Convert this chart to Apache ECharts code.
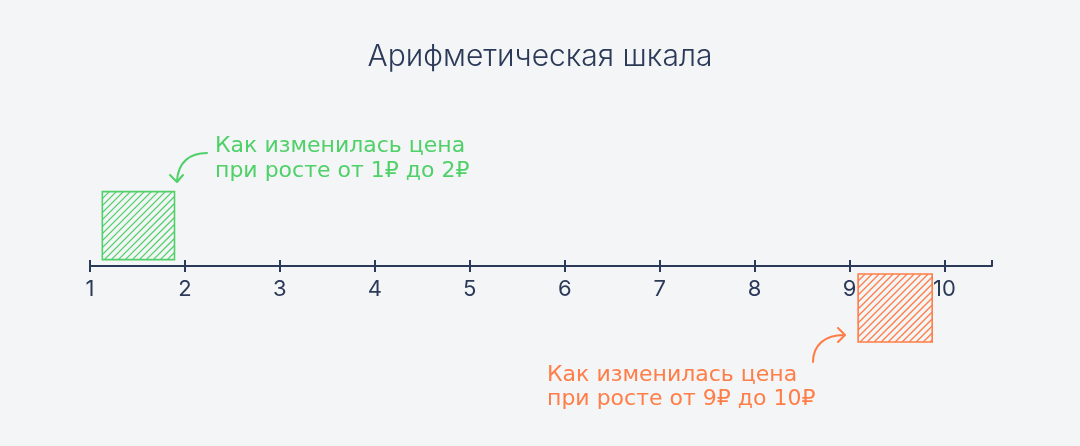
<!DOCTYPE html>
<html>
<head>
<meta charset="utf-8">
<script src="https://cdn.jsdelivr.net/npm/echarts@6/dist/echarts.min.js"></script>
<style>
  html, body { margin: 0; padding: 0; background: #f4f5f7; }
  #chart { width: 1080px; height: 446px; }
</style>
</head>
<body>
<div id="chart"></div>
<script>
// шкала
var axisMin = 1;
var axisMax = 10.5;
var tickStep = 1;

// прямоугольники: [x от, x до, y от, y до]
var greenBox = [1.13, 1.89, 0.08, 0.93];
var orangeBox = [9.09, 9.87, -0.1, -0.95];

var titleText = 'Арифметическая шкала';
var greenNote = ['Как изменилась цена', 'при росте от 1₽ до 2₽'];
var orangeNote = ['Как изменилась цена', 'при росте от 9₽ до 10₽'];

var navy = '#2b3a58';
var green = '#4fd068';
var orange = '#ff7d47';
var font = 'Inter, Roboto, "Noto Sans", sans-serif';
var noteFont = '"DejaVu Sans", Inter, sans-serif';

var chart = echarts.init(document.getElementById('chart'));

// штриховка внутри прямоугольника
function hatchBox(params, api, color) {
  var p0 = api.coord([api.value(0), api.value(3)]);
  var p1 = api.coord([api.value(1), api.value(2)]);
  var x0 = Math.min(p0[0], p1[0]), x1 = Math.max(p0[0], p1[0]);
  var y0 = Math.min(p0[1], p1[1]), y1 = Math.max(p0[1], p1[1]);
  var children = [];
  var step = 7;
  for (var c = x0 + y0 + step; c < x1 + y1; c += step) {
    var sx = Math.max(x0, c - y1), ex = Math.min(x1, c - y0);
    if (ex <= sx) continue;
    children.push({
      type: 'line',
      shape: { x1: sx, y1: c - sx, x2: ex, y2: c - ex },
      style: { stroke: color, lineWidth: 1.3 }
    });
  }
  children.push({
    type: 'rect',
    shape: { x: x0, y: y0, width: x1 - x0, height: y1 - y0 },
    style: { fill: null, stroke: color, lineWidth: 1.6 }
  });
  return { type: 'group', children: children };
}

var option = {
  backgroundColor: '#f4f5f7',
  animation: false,
  title: {
    text: titleText,
    left: 'center',
    top: 37,
    textStyle: { color: navy, fontFamily: font, fontWeight: 300, fontSize: 30 }
  },
  // нижний край сетки = линия шкалы
  grid: { left: 90, right: 88, top: 186, height: 80 },
  xAxis: [
    {
      type: 'value',
      min: axisMin, max: axisMax, interval: tickStep,
      position: 'bottom',
      splitLine: { show: false },
      axisLine: { onZero: false, lineStyle: { color: navy, width: 2 } },
      axisTick: { show: true, inside: false, length: 6, lineStyle: { color: navy, width: 2 } },
      axisLabel: {
        color: navy, fontFamily: font, fontWeight: 400, fontSize: 22, margin: 12,
        showMaxLabel: false
      }
    },
    {
      type: 'value',
      min: axisMin, max: axisMax, interval: tickStep,
      position: 'bottom',
      splitLine: { show: false },
      axisLine: { show: false, onZero: false },
      axisTick: { show: true, inside: true, length: 6, lineStyle: { color: navy, width: 2 } },
      axisLabel: { show: false }
    }
  ],
  yAxis: { type: 'value', min: 0, max: 1, show: false },
  series: [
    {
      type: 'custom',
      clip: false,
      data: [greenBox],
      renderItem: function (params, api) { return hatchBox(params, api, green); }
    },
    {
      type: 'custom',
      clip: false,
      data: [orangeBox],
      renderItem: function (params, api) { return hatchBox(params, api, orange); }
    }
  ],
  graphic: [
    { type: 'text', left: 215, top: 134, style: { text: greenNote.join('\n'), fill: green, font: '400 22px ' + noteFont, lineHeight: 25 } },
    { type: 'text', left: 547, top: 363, style: { text: orangeNote.join('\n'), fill: orange, font: '400 22px ' + noteFont, lineHeight: 24 } },
    { type: 'bezierCurve', shape: { x1: 207, y1: 153, cpx1: 190, cpy1: 153, cpx2: 178, cpy2: 162, x2: 177, y2: 181 }, style: { fill: null, stroke: green, lineWidth: 2, lineCap: 'round' } },
    { type: 'polyline', shape: { points: [[170, 175], [177, 182], [183, 175]] }, style: { fill: null, stroke: green, lineWidth: 2, lineCap: 'round', lineJoin: 'round' } },
    { type: 'bezierCurve', shape: { x1: 813, y1: 362, cpx1: 813, cpy1: 345, cpx2: 825, cpy2: 335, x2: 844, y2: 335 }, style: { fill: null, stroke: orange, lineWidth: 2, lineCap: 'round' } },
    { type: 'polyline', shape: { points: [[838, 328], [845, 335], [838, 342]] }, style: { fill: null, stroke: orange, lineWidth: 2, lineCap: 'round', lineJoin: 'round' } }
  ]
};

chart.setOption(option);
window.onresize = function () { chart.resize(); };
</script>
</body>
</html>
